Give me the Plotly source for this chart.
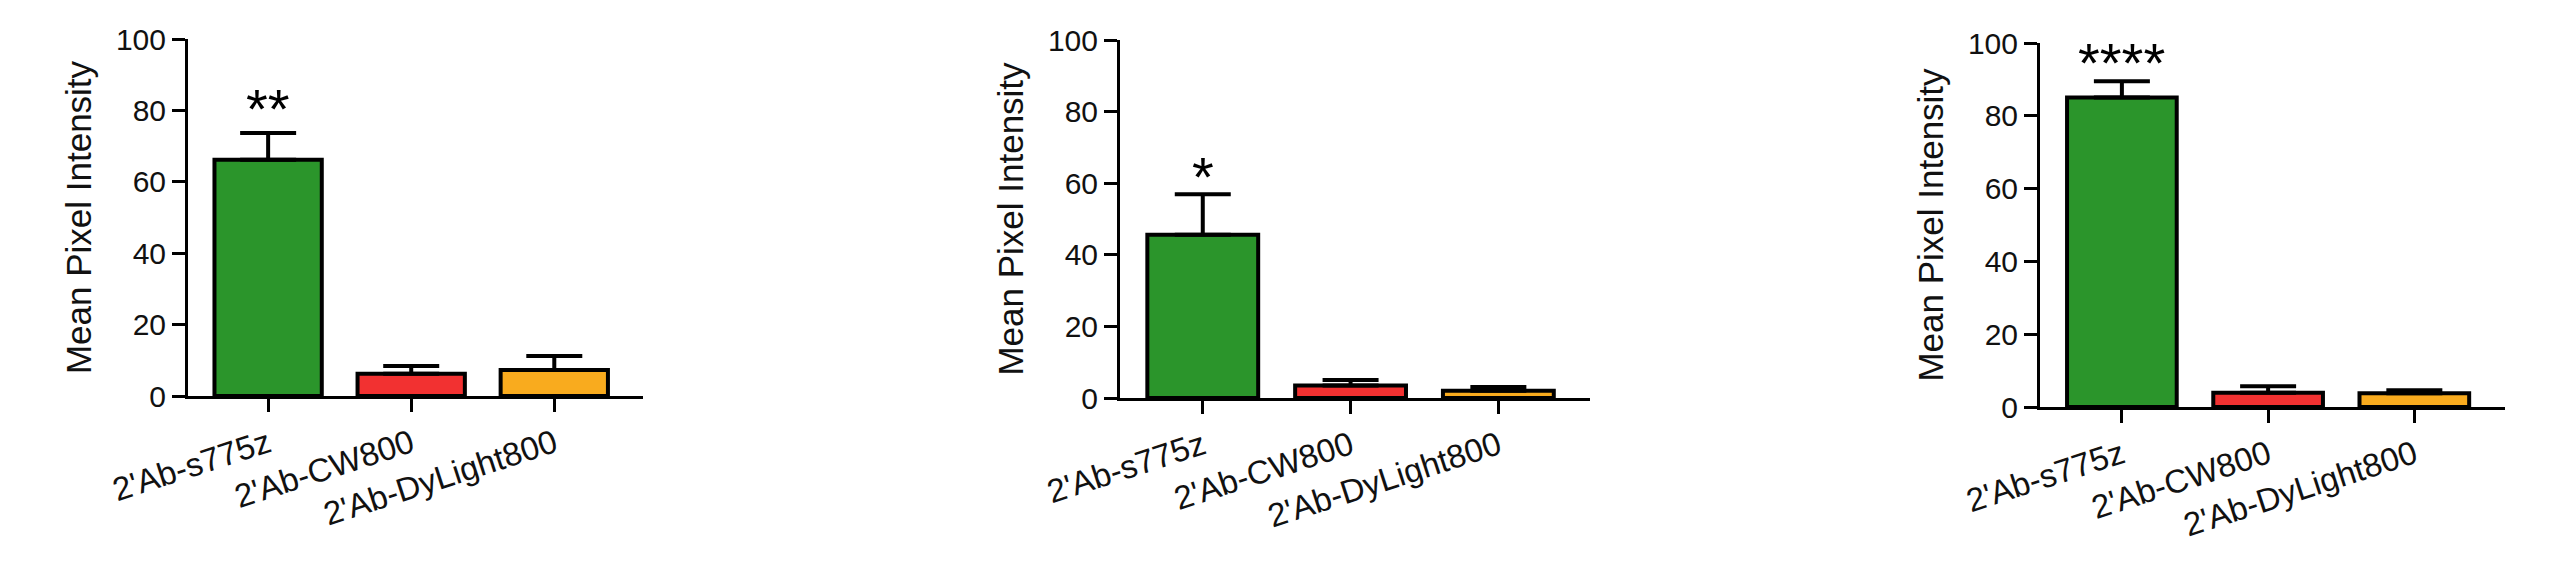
import plotly.graph_objects as go
from plotly.subplots import make_subplots

# groups on the x axis
categories = ["2'Ab-s775z", "2'Ab-CW800", "2'Ab-DyLight800"]
bar_colors = ["#2b952b", "#f23131", "#f9ab1e"]

# mean pixel intensity and upper error (SEM) for each panel
panel1_mean = [66.2, 6.2, 7.3]
panel1_err = [7.5, 2.2, 3.9]
panel2_mean = [45.6, 3.5, 2.0]
panel2_err = [11.3, 1.5, 1.1]
panel3_mean = [85.0, 3.9, 3.8]
panel3_err = [4.5, 1.8, 0.8]

# significance marks above the first bar
stars = ["**", "*", "****"]
star_y = [81.8, 63.2, 96.0]

# the page body has an 8px margin, so the figure is a bit smaller and shifted
PAD = 8
W, H = 2560 - PAD, 565 - PAD
# pixel boxes (in the window) for each plot area: (left, right, top, bottom)
boxes = [(188, 643, 39, 396), (1120, 1590, 40, 398), (2040, 2505, 43, 407)]

means = [panel1_mean, panel2_mean, panel3_mean]
errs = [panel1_err, panel2_err, panel3_err]

fig = make_subplots(rows=1, cols=3)
font_family = "Liberation Sans, Arial, sans-serif"

for i in range(3):
    fig.add_trace(go.Bar(
        x=categories, y=means[i],
        width=0.75,
        marker=dict(color=bar_colors, line=dict(color="black", width=4)),
        error_y=dict(type="data", array=errs[i], arrayminus=[0, 0, 0], symmetric=False,
                     color="black", thickness=4, width=28),
        showlegend=False,
    ), row=1, col=i + 1)

    l, r, t, b = [v - PAD for v in boxes[i]]
    ax = "" if i == 0 else str(i + 1)
    fig.layout["xaxis" + ax].update(
        domain=[l / W, r / W],
        range=[-0.56, 2.62],
        automargin=False,
        showline=True, linecolor="black", linewidth=3,
        ticks="outside", ticklen=13, tickwidth=3, tickcolor="black",
        tickangle=-18,
        tickfont=dict(size=33, color="#111", family=font_family),
        showgrid=False, zeroline=False,
    )
    fig.layout["yaxis" + ax].update(
        domain=[1 - b / H, 1 - t / H],
        range=[0, 100],
        automargin=False,
        tickvals=[0, 20, 40, 60, 80, 100],
        showline=True, linecolor="black", linewidth=3,
        ticks="outside", ticklen=13, tickwidth=3, tickcolor="black",
        tickfont=dict(size=30, color="#111", family=font_family),
        title=dict(text="Mean Pixel Intensity", standoff=14,
                   font=dict(size=35, color="#111", family=font_family)),
        showgrid=False, zeroline=False,
    )
    fig.add_annotation(
        x=categories[0], y=star_y[i], xref="x" + ax, yref="y" + ax,
        text=stars[i], showarrow=False, yanchor="middle", yshift=-5,
        font=dict(size=56, color="black", family=font_family),
    )

fig.update_layout(
    width=W, height=H,
    margin=dict(l=0, r=0, t=0, b=0),
    paper_bgcolor="white", plot_bgcolor="white",
    bargap=0.25,
)

fig.write_html("out.html")
